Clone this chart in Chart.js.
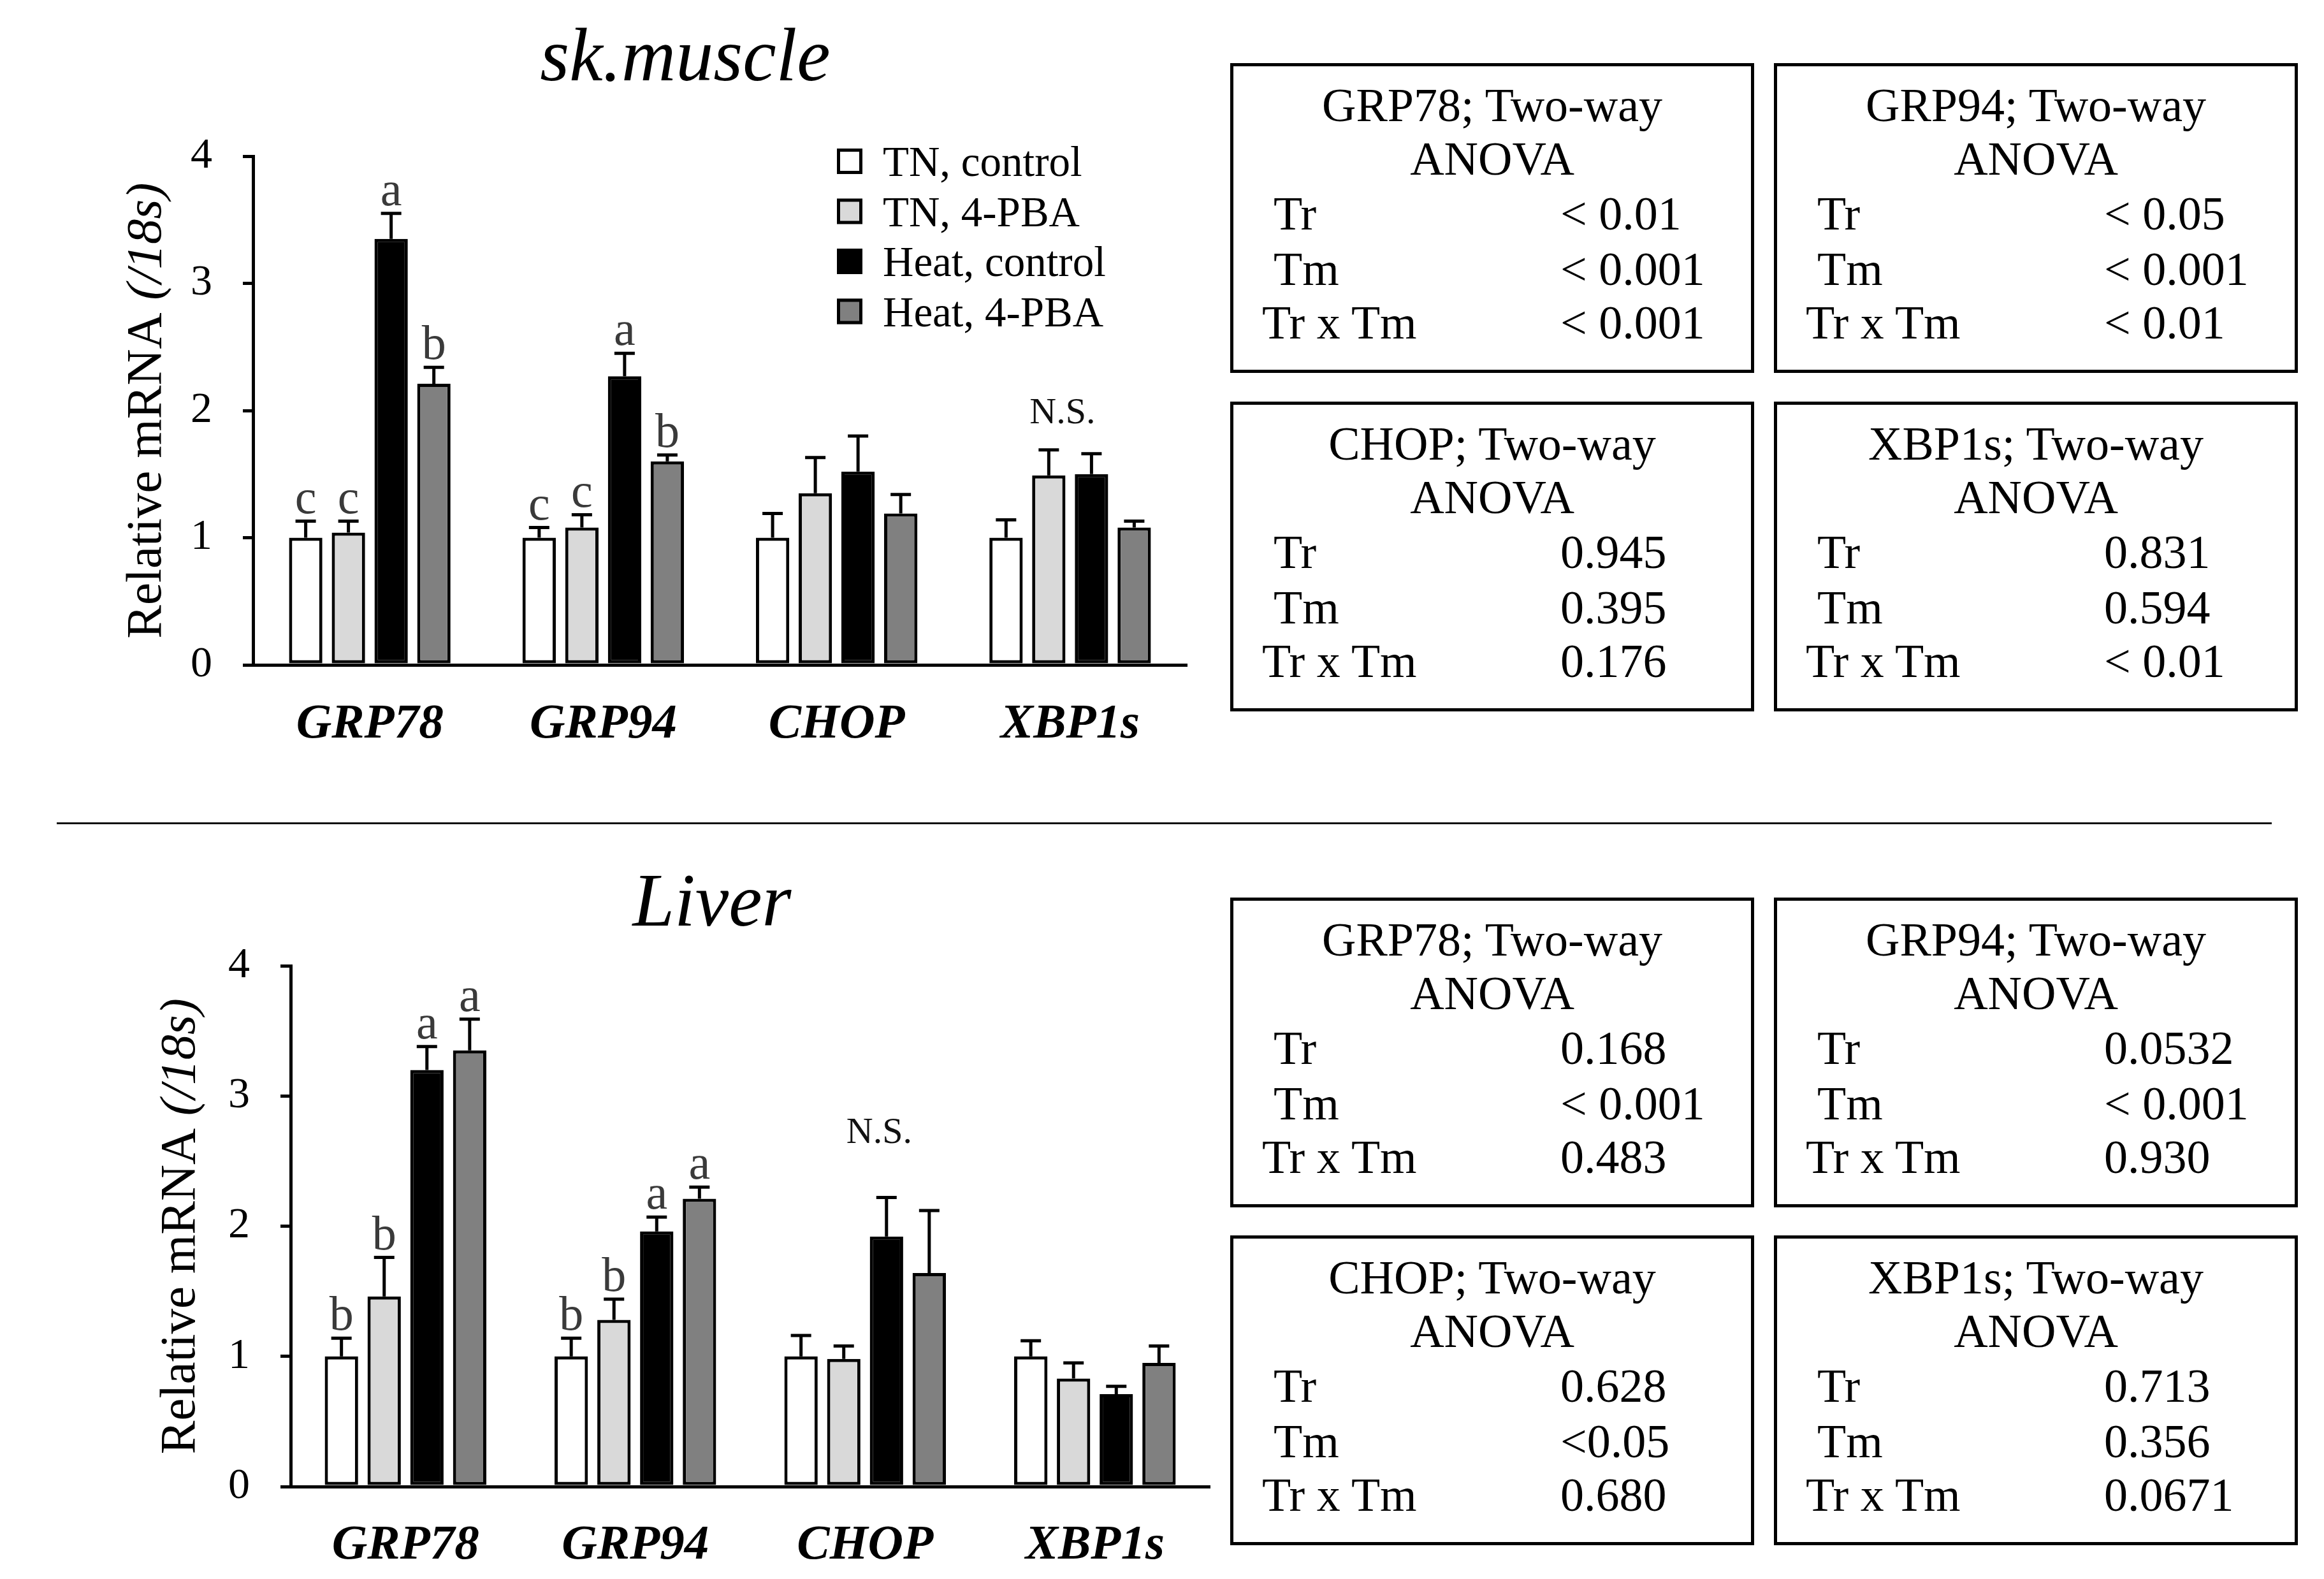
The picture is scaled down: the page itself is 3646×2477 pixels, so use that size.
<!DOCTYPE html>
<html>
<head>
<meta charset="utf-8">
<script src="https://cdn.jsdelivr.net/npm/chart.js@4.4.1/dist/chart.umd.min.js"></script>
<style>
  html, body { margin: 0; padding: 0; background: #fff; }
  body { width: 3646px; height: 2477px; position: relative; overflow: hidden; font-family: 'Liberation Serif', serif; }
  canvas { position: absolute; left: 0; }
  #muscle { top: 0; }
  #liver { top: 1300px; }
  .sep { position: absolute; left: 89px; top: 1290px; width: 3475px; height: 3px; background: #111; }
  .box { position: absolute; width: 822px; height: 486px; border: 5px solid #000; box-sizing: border-box; }
  .box div { position: absolute; font-size: 74px; line-height: 74px; white-space: nowrap; color: #000; }
  .box .c { left: 0; right: 0; text-align: center; }
</style>
</head>
<body>
<canvas id="muscle" width="1900" height="1230"></canvas>
<canvas id="liver" width="1930" height="1177"></canvas>
<div class="sep"></div>
<div id="boxes"></div>

<script>
// categories, groups, ticks
const genes = ['GRP78', 'GRP94', 'CHOP', 'XBP1s'];
const groups = ['TN, control', 'TN, 4-PBA', 'Heat, control', 'Heat, 4-PBA'];
const groupColors = ['#ffffff', '#d9d9d9', '#000000', '#808080'];
const yTicks = [0, 1, 2, 3, 4];

/*
* sk.muscle, mean and SE
*/
const muscleTnCtrl = [1.00, 1.00, 1.00, 1.00];
const muscleTnPba = [1.04, 1.08, 1.35, 1.49];
const muscleHeatCtrl = [3.35, 2.27, 1.52, 1.50];
const muscleHeatPba = [2.21, 1.60, 1.19, 1.08];
const muscleTnCtrlSe = [0.13, 0.08, 0.19, 0.14];
const muscleTnPbaSe = [0.09, 0.10, 0.28, 0.20];
const muscleHeatCtrlSe = [0.20, 0.18, 0.28, 0.16];
const muscleHeatPbaSe = [0.13, 0.05, 0.15, 0.05];
const muscleTnCtrlSig = ['c', 'c', '', ''];
const muscleTnPbaSig = ['c', 'c', '', ''];
const muscleHeatCtrlSig = ['a', 'a', '', ''];
const muscleHeatPbaSig = ['b', 'b', '', ''];

/*
* Liver, mean and SE
*/
const liverTnCtrl = [1.00, 1.00, 1.00, 1.00];
const liverTnPba = [1.46, 1.28, 0.98, 0.83];
const liverHeatCtrl = [3.20, 1.96, 1.92, 0.71];
const liverHeatPba = [3.35, 2.21, 1.64, 0.95];
const liverTnCtrlSe = [0.14, 0.14, 0.16, 0.12];
const liverTnPbaSe = [0.30, 0.16, 0.10, 0.12];
const liverHeatCtrlSe = [0.18, 0.11, 0.30, 0.06];
const liverHeatPbaSe = [0.24, 0.09, 0.48, 0.13];
const liverTnCtrlSig = ['b', 'b', '', ''];
const liverTnPbaSig = ['b', 'b', '', ''];
const liverHeatCtrlSig = ['a', 'a', '', ''];
const liverHeatPbaSig = ['a', 'a', '', ''];

/*
* Two-way ANOVA tables
*/
const anovaTerms = ['Tr', 'Tm', 'Tr x Tm'];
const muscleGrp78P = ['< 0.01', '< 0.001', '< 0.001'];
const muscleGrp94P = ['< 0.05', '< 0.001', '< 0.01'];
const muscleChopP = ['0.945', '0.395', '0.176'];
const muscleXbp1sP = ['0.831', '0.594', '< 0.01'];
const liverGrp78P = ['0.168', '< 0.001', '0.483'];
const liverGrp94P = ['0.0532', '< 0.001', '0.930'];
const liverChopP = ['0.628', '<0.05', '0.680'];
const liverXbp1sP = ['0.713', '0.356', '0.0671'];

const serif = "'Liberation Serif', 'Times New Roman', serif";

// extra drawing per chart (error bars, letters, titles)
const extras = {
  muscle: {
    title: 'sk.muscle', titleX: 1075, titleY: 126,
    yTitleX: 252,
    errors: [muscleTnCtrlSe, muscleTnPbaSe, muscleHeatCtrlSe, muscleHeatPbaSe],
    letters: [muscleTnCtrlSig, muscleTnPbaSig, muscleHeatCtrlSig, muscleHeatPbaSig],
    ns: { gene: 3, pos: 1.32, value: 1.90 },
    legend: true
  },
  liver: {
    title: 'Liver', titleX: 1117, titleY: 152,
    yTitleX: 305,
    errors: [liverTnCtrlSe, liverTnPbaSe, liverHeatCtrlSe, liverHeatPbaSe],
    letters: [liverTnCtrlSig, liverTnPbaSig, liverHeatCtrlSig, liverHeatPbaSig],
    ns: { gene: 2, pos: 1.83, value: 2.64 },
    legend: false
  }
};

const extrasPlugin = {
  id: 'extras',
  afterDatasetsDraw(chart) {
    const ex = extras[chart.canvas.id];
    const ctx = chart.ctx;
    const yScale = chart.scales.y;
    ctx.save();
    ctx.strokeStyle = '#000';
    ctx.lineWidth = 5;
    ctx.lineCap = 'butt';
    ex.errors.forEach(function (se, di) {
      const meta = chart.getDatasetMeta(di);
      meta.data.forEach(function (bar, i) {
        const v = chart.data.datasets[di].data[i];
        const top = yScale.getPixelForValue(v + se[i]);
        ctx.beginPath();
        ctx.moveTo(bar.x, bar.y);
        ctx.lineTo(bar.x, top);
        ctx.moveTo(bar.x - 16, top);
        ctx.lineTo(bar.x + 16, top);
        ctx.stroke();
        const s = ex.letters[di][i];
        if (s) {
          ctx.fillStyle = '#3a3a3a';
          ctx.font = '76px ' + serif;
          ctx.textAlign = 'center';
          ctx.textBaseline = 'alphabetic';
          ctx.fillText(s, bar.x, top - 13);
        }
      });
    });
    // N.S.
    const b = Math.floor(ex.ns.pos);
    const f = ex.ns.pos - b;
    const x0 = chart.getDatasetMeta(b).data[ex.ns.gene].x;
    const x1 = chart.getDatasetMeta(b + 1).data[ex.ns.gene].x;
    ctx.fillStyle = '#111';
    ctx.font = '58px ' + serif;
    ctx.textAlign = 'center';
    ctx.textBaseline = 'alphabetic';
    ctx.fillText('N.S.', x0 + (x1 - x0) * f, yScale.getPixelForValue(ex.ns.value));
    ctx.restore();
  },
  afterDraw(chart) {
    const ex = extras[chart.canvas.id];
    const ctx = chart.ctx;
    const area = chart.chartArea;
    ctx.save();
    ctx.fillStyle = '#000';
    ctx.textBaseline = 'alphabetic';

    // titulo
    ctx.font = 'italic 118px ' + serif;
    ctx.textAlign = 'center';
    ctx.fillText(ex.title, ex.titleX, ex.titleY);

    // eje y: "Relative mRNA (/18s)"
    const t1 = 'Relative mRNA ';
    const t2 = '(/18s)';
    ctx.save();
    ctx.translate(ex.yTitleX, (area.top + area.bottom) / 2);
    ctx.rotate(-Math.PI / 2);
    ctx.textAlign = 'left';
    ctx.font = '79px ' + serif;
    const w1 = ctx.measureText(t1).width;
    ctx.font = 'italic 79px ' + serif;
    const w2 = ctx.measureText(t2).width;
    let x = -(w1 + w2) / 2;
    ctx.font = '79px ' + serif;
    ctx.fillText(t1, x, 0);
    ctx.font = 'italic 79px ' + serif;
    ctx.fillText(t2, x + w1, 0);
    ctx.restore();

    // leyenda
    if (ex.legend) {
      ctx.font = '67px ' + serif;
      ctx.textAlign = 'left';
      groups.forEach(function (g, k) {
        const cy = 253 + k * 78.5;
        ctx.fillStyle = groupColors[k];
        ctx.fillRect(1313, cy - 20, 40, 40);
        ctx.strokeStyle = '#000';
        ctx.lineWidth = 5;
        ctx.strokeRect(1315.5, cy - 17.5, 35, 35);
        ctx.fillStyle = '#000';
        ctx.fillText(g, 1385, cy + 23);
      });
    }
    ctx.restore();
  }
};

function buildChart(id, series, leftW, bottomH, pad, catPct, tickPad) {
  const ctx = document.getElementById(id).getContext('2d');
  return new Chart(ctx, {
    type: 'bar',
    data: {
      labels: genes,
      datasets: series.map(function (d, k) {
        return {
          label: groups[k],
          data: d,
          backgroundColor: groupColors[k],
          borderColor: '#000',
          borderWidth: 5,
          borderSkipped: false,
          categoryPercentage: catPct,
          barPercentage: 0.78
        };
      })
    },
    options: {
      responsive: false,
      animation: false,
      devicePixelRatio: 1,
      layout: { padding: pad },
      plugins: { legend: { display: false }, tooltip: { enabled: false } },
      scales: {
        x: {
          grid: { display: false, drawTicks: false },
          border: { display: true, color: '#000', width: 5 },
          ticks: {
            color: '#000',
            padding: tickPad,
            font: { family: serif, size: 77, style: 'italic', weight: 'bold' }
          },
          afterFit: function (scale) { scale.height = bottomH; }
        },
        y: {
          min: 0,
          max: 4,
          afterBuildTicks: function (scale) {
            scale.ticks = yTicks.map(function (v) { return { value: v }; });
          },
          grid: { drawOnChartArea: false, drawTicks: true, tickLength: 16, color: '#000', lineWidth: 5 },
          border: { display: true, color: '#000', width: 5 },
          ticks: {
            color: '#000',
            padding: 48,
            font: { family: serif, size: 68 }
          },
          afterFit: function (scale) { scale.width = leftW; }
        }
      }
    },
    plugins: [extrasPlugin]
  });
}

buildChart('muscle',
  [muscleTnCtrl, muscleTnPba, muscleHeatCtrl, muscleHeatPba],
  397, 187, { left: 0, top: 245, right: 38, bottom: 0 }, 0.732, 48);

buildChart('liver',
  [liverTnCtrl, liverTnPba, liverHeatCtrl, liverHeatPba],
  456, 145, { left: 0, top: 215, right: 32, bottom: 0 }, 0.744, 47);

/*
* Cuadros de ANOVA
*/
function addBox(left, top, gene, pvals) {
  const box = document.createElement('div');
  box.className = 'box';
  box.style.left = left + 'px';
  box.style.top = top + 'px';
  const lines = [
    { cls: 'c', text: gene + '; Two-way', top: 24 },
    { cls: 'c', text: 'ANOVA', top: 108 }
  ];
  anovaTerms.forEach(function (t, k) {
    const rowTop = [194, 281, 365][k];
    lines.push({ text: t, top: rowTop, left: t === 'Tr x Tm' ? 45 : 63 });
    lines.push({ text: pvals[k], top: rowTop, left: 513 });
  });
  lines.forEach(function (l) {
    const d = document.createElement('div');
    if (l.cls) d.className = l.cls;
    d.textContent = l.text;
    d.style.top = l.top + 'px';
    if (l.left !== undefined) d.style.left = l.left + 'px';
    box.appendChild(d);
  });
  document.getElementById('boxes').appendChild(box);
}

addBox(1930, 99, 'GRP78', muscleGrp78P);
addBox(2783, 99, 'GRP94', muscleGrp94P);
addBox(1930, 630, 'CHOP', muscleChopP);
addBox(2783, 630, 'XBP1s', muscleXbp1sP);
addBox(1930, 1408, 'GRP78', liverGrp78P);
addBox(2783, 1408, 'GRP94', liverGrp94P);
addBox(1930, 1938, 'CHOP', liverChopP);
addBox(2783, 1938, 'XBP1s', liverXbp1sP);
</script>
</body>
</html>
